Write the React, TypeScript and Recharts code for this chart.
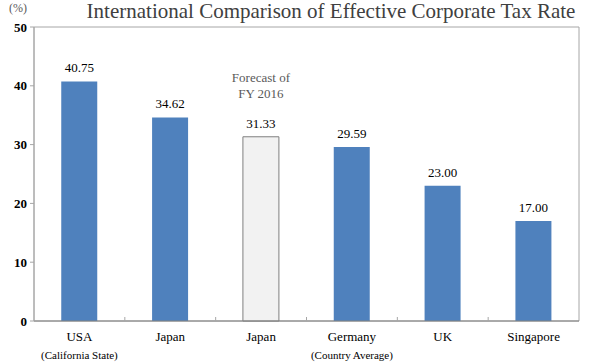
import { BarChart, Bar, XAxis, YAxis, Cell, LabelList, ReferenceArea } from 'recharts'

const countries = ['USA', 'Japan', 'Japan', 'Germany', 'UK', 'Singapore']
const subLabels = ['(California State)', '', '', '(Country Average)', '', '']
const rates = [40.75, 34.62, 31.33, 29.59, 23.0, 17.0]
const forecast = [false, false, true, false, false, false]
const forecastNote = ['Forecast of', 'FY 2016']
const yTicks = [0, 10, 20, 30, 40, 50]

const data = countries.map((name, i) => ({
  name,
  sub: subLabels[i],
  rate: rates[i],
  forecast: forecast[i],
}))

const SERIF = "'Liberation Serif', 'DejaVu Serif', serif"
const serif = (size: number, color = '#000') => ({ fontFamily: SERIF, fontSize: size, fill: color })

// category label + the small inward tick at the right edge of each category band
function CountryTick({ x, y, payload, index, width, visibleTicksCount }: any) {
  const sub = subLabels[index]
  const half = width / visibleTicksCount / 2
  return (
    <g transform={`translate(${x},${y})`}>
      {index < countries.length - 1 && (
        <line x1={half} x2={half} y1={0} y2={-4} stroke="#a6a6a6" />
      )}
      <text x={0} y={20} textAnchor="middle" style={serif(13)}>
        {payload.value}
      </text>
      {sub && (
        <text x={0} y={38} textAnchor="middle" style={serif(11)}>
          {sub}
        </text>
      )}
    </g>
  )
}

function ValueLabel({ x, y, width, value, index }: any) {
  const cx = x + width / 2
  return (
    <g>
      <text x={cx} y={y - 9} textAnchor="middle" style={serif(13)}>
        {Number(value).toFixed(2)}
      </text>
      {forecast[index] &&
        forecastNote.map((line, k) => (
          <text key={k} x={cx} y={y - 55 + k * 16} textAnchor="middle" style={serif(13, '#595959')}>
            {line}
          </text>
        ))}
    </g>
  )
}

export default function App() {
  return (
    <div style={{ position: 'absolute', left: 0, top: 0, width: 592, height: 363, background: '#fff' }}>
      <div
        style={{
          position: 'absolute',
          left: 0,
          width: 662,
          top: -1,
          textAlign: 'center',
          fontFamily: SERIF,
          fontSize: 21,
          color: '#404040',
          whiteSpace: 'nowrap',
        }}
      >
        International Comparison of Effective Corporate Tax Rate
      </div>
      <div
        style={{
          position: 'absolute',
          left: 9,
          top: 1,
          fontFamily: SERIF,
          fontSize: 12,
          color: '#595959',
        }}
      >
        (%)
      </div>
      <BarChart
        width={592}
        height={363}
        data={data}
        margin={{ top: 27, right: 13, left: 0, bottom: 0 }}
        barCategoryGap="30%"
      >
        <ReferenceArea y1={0} y2={50} fill="none" stroke="#a6a6a6" strokeWidth={1} ifOverflow="visible" />
        <XAxis
          dataKey="name"
          height={42}
          tickLine={false}
          tickSize={0}
          tickMargin={0}
          axisLine={{ stroke: '#808080' }}
          tick={<CountryTick />}
          interval={0}
        />
        <YAxis
          domain={[0, 50]}
          ticks={yTicks}
          width={34}
          axisLine={{ stroke: '#a6a6a6' }}
          tickLine={{ stroke: '#a6a6a6' }}
          tickSize={4}
          tickMargin={3}
          tick={{ fontFamily: SERIF, fontSize: 13, fontWeight: 'bold', fill: '#000' }}
        />
        <Bar dataKey="rate" isAnimationActive={false}>
          {data.map((d, i) => (
            <Cell
              key={i}
              fill={d.forecast ? '#f2f2f2' : '#4f81bd'}
              stroke={d.forecast ? '#7f7f7f' : 'none'}
            />
          ))}
          <LabelList dataKey="rate" content={<ValueLabel />} />
        </Bar>
      </BarChart>
    </div>
  )
}
